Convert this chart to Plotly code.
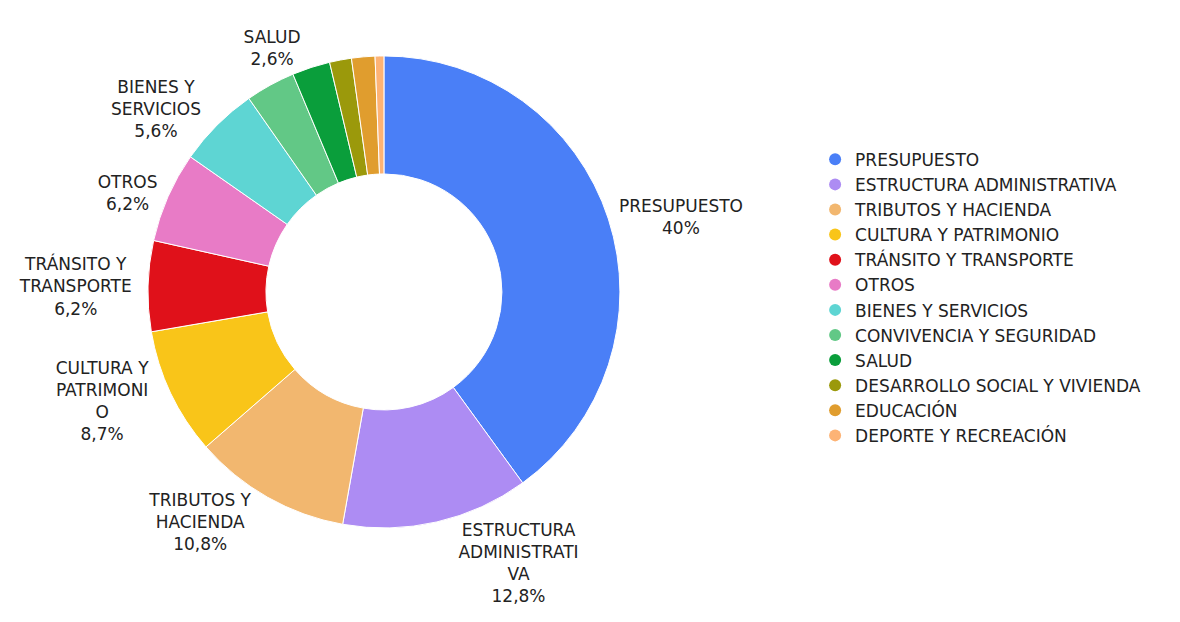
import plotly.graph_objects as go

categories = ["PRESUPUESTO", "ESTRUCTURA ADMINISTRATIVA", "TRIBUTOS Y HACIENDA",
              "CULTURA Y PATRIMONIO", "TRÁNSITO Y TRANSPORTE", "OTROS",
              "BIENES Y SERVICIOS", "CONVIVENCIA Y SEGURIDAD", "SALUD",
              "DESARROLLO SOCIAL Y VIVIENDA", "EDUCACIÓN", "DEPORTE Y RECREACIÓN"]
values = [40.0, 12.8, 10.8, 8.7, 6.2, 6.2, 5.6, 3.4, 2.6, 1.5, 1.6, 0.6]
# wrapped label names as displayed on the chart ("" = label not shown)
label_names = ["PRESUPUESTO", "ESTRUCTURA<br>ADMINISTRATI<br>VA", "TRIBUTOS Y<br>HACIENDA",
               "CULTURA Y<br>PATRIMONI<br>O", "TRÁNSITO Y<br>TRANSPORTE", "OTROS",
               "BIENES Y<br>SERVICIOS", "", "SALUD", "", "", ""]
colors = ["#4a7ff7", "#ad8cf3", "#f2b76f", "#f9c519", "#e0111a", "#e87bc6",
          "#5ed5d3", "#62c886", "#0a9e3b", "#9b990b", "#e09d2e", "#fdb375"]

FONT = "DejaVu Sans"

def fmt(v):
    s = ("%g" % v).replace(".", ",")
    return s + "%"

texts = [(n + "<br>" + fmt(v)) if n else "" for n, v in zip(label_names, values)]
positions = ["outside" if n else "none" for n in label_names]

fig = go.Figure()
fig.add_trace(go.Pie(
    labels=categories, values=values, text=texts, textinfo="text",
    textposition=positions, hole=0.5, sort=False, direction="clockwise",
    rotation=0, marker=dict(colors=colors, line=dict(color="white", width=1)),
    outsidetextfont=dict(family=FONT, size=17, color="#222222"),
    showlegend=False, hoverinfo="label+percent",
    domain=dict(x=[0.1186, 0.5186], y=[0.164, 0.923]),
))
for c, col in zip(categories, colors):
    fig.add_trace(go.Scatter(x=[None], y=[None], mode="markers", name=c,
                             marker=dict(color=col, size=12, symbol="circle")))

fig.update_layout(
    width=1180, height=622, margin=dict(l=0, r=0, t=0, b=0),
    paper_bgcolor="white", plot_bgcolor="white",
    xaxis=dict(visible=False), yaxis=dict(visible=False),
    legend=dict(x=0.684, y=0.785, xanchor="left", yanchor="top",
                font=dict(family=FONT, size=17, color="#222222"),
                bgcolor="rgba(0,0,0,0)"),
    font=dict(family=FONT),
)
fig.write_html("out.html")
